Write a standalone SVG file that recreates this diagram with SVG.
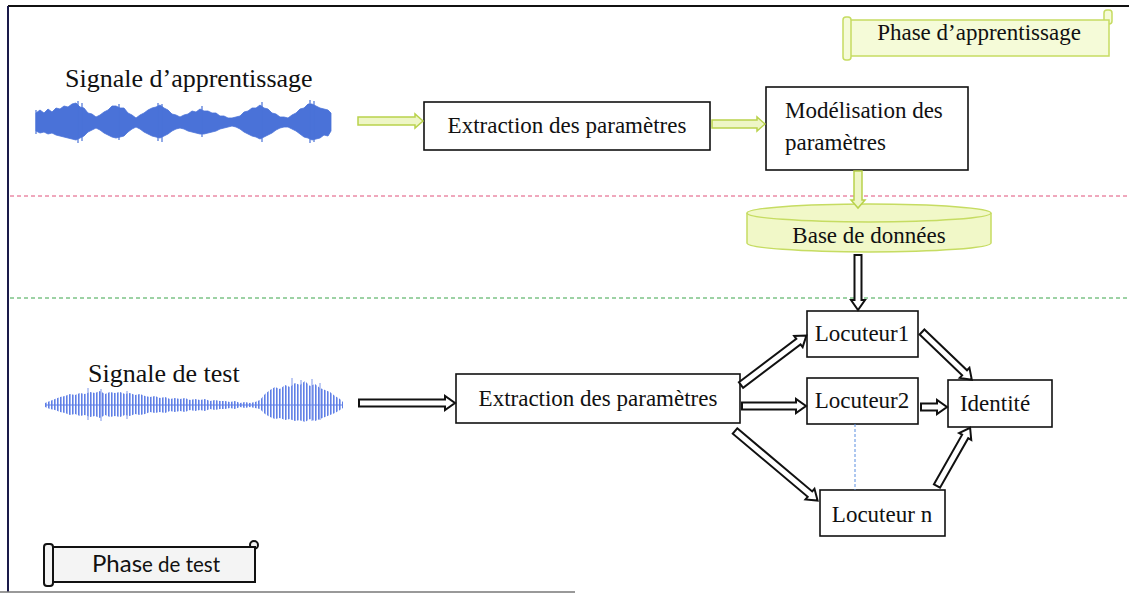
<svg xmlns="http://www.w3.org/2000/svg" width="1129" height="595" viewBox="0 0 1129 595">
  <style>
    .lbl { font-family: "Liberation Serif", "Times New Roman", serif; font-size: 23px; fill: #111; }
    .big { font-family: "Liberation Serif", "Times New Roman", serif; font-size: 26px; fill: #111; }
    .box { fill: #fff; stroke: #111; stroke-width: 1.6; }
    .arr { fill: #fff; stroke: #111; stroke-width: 2; stroke-linejoin: miter; }
    .garr { fill: #eef6c6; stroke: #b9d24c; stroke-width: 1.5; }
  </style>
  <defs>
    <!-- vertical stripes used to texture the test waveform -->
    <pattern id="stripes" patternUnits="userSpaceOnUse" width="3" height="4">
      <rect x="0" y="0" width="1.6" height="4" fill="#5f7fe6"/>
    </pattern>
  </defs>

  <rect width="1129" height="595" fill="#fff"/>

  <!-- outer frame -->
  <g id="frame">
    <line x1="8" y1="6" x2="1129" y2="6" stroke="#111" stroke-width="2"/>
    <line x1="8" y1="6" x2="8" y2="592" stroke="#1a1a4a" stroke-width="2"/>
    <line x1="0" y1="592" x2="575" y2="592" stroke="#777" stroke-width="1.5"/>
  </g>

  <!-- phase separators -->
  <g id="separators">
    <line x1="10" y1="196" x2="1129" y2="196" stroke="#e0507a" stroke-width="1" stroke-dasharray="4 3"/>
    <line x1="10" y1="298" x2="1129" y2="298" stroke="#3aa54a" stroke-width="1" stroke-dasharray="4 3"/>
  </g>

  <!-- learning phase banner -->
  <g id="banner-apprentissage">
    <rect x="1104" y="10" width="8" height="14" rx="3" fill="#f5fbd8" stroke="#c6dc62" stroke-width="1.5"/>
    <rect x="849" y="20" width="260" height="36" fill="#f5fbd8" stroke="#c6dc62" stroke-width="1.5"/>
    <rect x="843" y="17" width="8" height="43" rx="3" fill="#f5fbd8" stroke="#c6dc62" stroke-width="1.5"/>
    <text class="lbl" x="979" y="40" text-anchor="middle" font-size="22.5">Phase d’apprentissage</text>
  </g>

  <!-- training signal -->
  <g id="signal-apprentissage">
    <text class="big" x="65" y="87">Signale d’apprentissage</text>
    <polygon fill="#4a72d8" stroke="#4a72d8" stroke-width="0.8" points="36,113 40,110 44,113 48,109 52,112 56,108 60,109 64,106 68,107 72,104 76,103 80,107 84,108 88,113 92,114 96,117 100,115 104,112 108,110 112,106 116,106 120,108 124,108 128,113 132,115 136,118 140,115 144,113 148,110 152,108 156,107 160,105 164,108 168,110 172,114 176,115 180,117 184,115 188,114 192,111 196,112 200,109 204,111 208,111 212,113 216,113 220,116 224,116 228,118 232,118 236,117 240,116 244,112 248,111 252,108 256,108 260,105 264,108 268,109 272,113 276,114 280,117 284,117 288,118 292,115 296,113 300,109 304,108 308,104 312,104 316,106 320,108 324,109 328,110 331,113 331,131 328,136 324,135 320,138 316,139 312,140 308,138 304,137 300,134 296,131 292,129 288,127 284,127 280,128 276,130 272,133 268,135 264,137 260,139 256,137 252,136 248,134 244,132 240,129 236,127 232,126 228,127 224,128 220,129 216,131 212,132 208,133 204,134 200,134 196,133 192,132 188,131 184,129 180,128 176,129 172,131 168,134 164,136 160,138 156,137 152,136 148,134 144,132 140,129 136,127 132,129 128,132 124,136 120,137 116,138 112,137 108,135 104,133 100,130 96,128 92,130 88,132 84,136 80,138 76,140 72,139 68,138 64,137 60,136 56,135 52,133 48,134 44,132 40,133 36,131"/>
    <path d="M78,101V143 M82,103V141 M119,104V140 M158,103V141 M162,104V142 M262,102V142 M310,100V143 M314,101V142 M202,106V137 M36,110V134" stroke="#4a72d8" stroke-width="1.2"/>
  </g>

  <!-- test signal -->
  <g id="signal-test">
    <text class="big" x="88" y="382">Signale de test</text>
    <polygon fill="url(#stripes)" points="45,403 50,401 55,399 60,397 65,396 70,394 75,395 80,393 85,394 90,392 95,393 100,391 105,394 110,392 115,393 120,392 125,394 130,393 135,395 140,394 145,396 150,397 155,396 160,398 165,397 170,399 175,398 180,399 185,398 190,400 195,399 200,400 205,399 210,401 215,400 220,401 225,401 230,402 235,401 240,403 245,402 250,403 255,402 260,400 265,394 270,390 275,387 280,389 285,385 290,387 295,383 300,385 305,381 310,386 315,384 320,388 325,390 330,392 335,396 340,399 343,402 343,408 340,410 335,413 330,415 325,417 320,419 315,421 310,419 305,422 300,420 295,421 290,419 285,420 280,418 275,419 270,417 265,414 260,409 255,408 250,407 245,408 240,407 235,409 230,408 225,409 220,409 215,410 210,409 205,411 200,410 195,411 190,410 185,412 180,411 175,412 170,411 165,413 160,412 155,413 150,412 145,414 140,415 135,414 130,416 125,415 120,417 115,416 110,417 105,415 100,418 95,416 90,417 85,415 80,416 75,414 70,415 65,413 60,412 55,410 50,409 45,407"/>
    <line x1="45" y1="405" x2="343" y2="405" stroke="#5f7fe6" stroke-width="1"/>
    <path d="M88,388V420 M101,389V421 M127,391V419 M292,378V420 M301,380V421 M312,379V421 M320,383V420" stroke="#7d95ea" stroke-width="1"/>
  </g>

  <g id="extraction-apprentissage">
    <rect class="box" x="424" y="102" width="286" height="48"/>
    <text class="lbl" x="567" y="133" text-anchor="middle">Extraction des paramètres</text>
  </g>

  <g id="modelisation">
    <rect class="box" x="766" y="87" width="202" height="83"/>
    <text class="lbl" x="785" y="118">Modélisation des</text>
    <text class="lbl" x="785" y="150">paramètres</text>
  </g>

  <g id="base-donnees">
    <path d="M747,213 A122,9 0 0 1 991,213 V243 A122,9 0 0 1 747,243 Z" fill="#f1f8c8" stroke="#c6dc62" stroke-width="1.5"/>
    <path d="M747,213 A122,9 0 0 0 991,213" fill="none" stroke="#c6dc62" stroke-width="1.5"/>
    <text class="lbl" x="869" y="243" text-anchor="middle" font-size="22.5">Base de données</text>
  </g>

  <g id="extraction-test">
    <rect class="box" x="456" y="374" width="284" height="49"/>
    <text class="lbl" x="598" y="406" text-anchor="middle">Extraction des paramètres</text>
  </g>

  <g id="locuteur1">
    <rect class="box" x="807" y="311" width="111" height="46"/>
    <text class="lbl" x="862" y="341" text-anchor="middle" font-size="22">Locuteur1</text>
  </g>

  <g id="locuteur2">
    <rect class="box" x="807" y="378" width="111" height="46"/>
    <text class="lbl" x="862" y="408" text-anchor="middle" font-size="22">Locuteur2</text>
  </g>

  <g id="locuteur-n">
    <rect class="box" x="820" y="490" width="125" height="46"/>
    <text class="lbl" x="882" y="522" text-anchor="middle" font-size="22">Locuteur n</text>
  </g>

  <g id="identite">
    <rect class="box" x="948" y="380" width="104" height="47"/>
    <text class="lbl" x="995" y="411" text-anchor="middle">Identité</text>
  </g>

  <!-- test phase banner -->
  <g id="banner-test">
    <circle cx="254" cy="545" r="4" fill="#f4f4f4" stroke="#111" stroke-width="2"/>
    <rect x="50" y="547" width="205" height="35" fill="#f4f4f4" stroke="#111" stroke-width="2"/>
    <rect x="44" y="544" width="9" height="42" rx="3" fill="#f4f4f4" stroke="#111" stroke-width="2"/>
    <text x="156" y="572" text-anchor="middle" font-family="Lato, 'Open Sans', sans-serif" fill="#111"><tspan font-size="24">Phas</tspan><tspan font-size="20.5">e de test</tspan></text>
  </g>

  <!-- connectors: hollow block arrows, drawn along +x then placed -->
  <g id="connectors">
    <line x1="855" y1="424" x2="855" y2="490" stroke="#5b8ee0" stroke-width="1" stroke-dasharray="3 2"/>

    <polygon class="garr" transform="translate(358,121)" points="0,-4 57,-4 57,-7 65,0 57,7 57,4 0,4"/>
    <polygon class="garr" transform="translate(712,124)" points="0,-4 45,-4 45,-7 53,0 45,7 45,4 0,4"/>
    <polygon class="garr" transform="translate(858,171) rotate(90)" points="0,-4 29,-4 29,-7 37,0 29,7 29,4 0,4"/>

    <polygon class="arr" transform="translate(858,255) rotate(90)" points="0,-3.5 45,-3.5 45,-7 55,0 45,7 45,3.5 0,3.5"/>
    <polygon class="arr" transform="translate(359,403)" points="0,-3.5 86,-3.5 86,-7 96,0 86,7 86,3.5 0,3.5"/>
    <polygon class="arr" transform="translate(741,385) rotate(-37.1)" points="0,-3.5 72,-3.5 72,-7 82,0 72,7 72,3.5 0,3.5"/>
    <polygon class="arr" transform="translate(742,406)" points="0,-3.5 54,-3.5 54,-7 64,0 54,7 54,3.5 0,3.5"/>
    <polygon class="arr" transform="translate(735,431) rotate(40.1)" points="0,-3.5 98,-3.5 98,-7 108,0 98,7 98,3.5 0,3.5"/>
    <polygon class="arr" transform="translate(922,332) rotate(43.8)" points="0,-3.5 59,-3.5 59,-7 69,0 59,7 59,3.5 0,3.5"/>
    <polygon class="arr" transform="translate(921,407)" points="0,-3.5 16,-3.5 16,-7 26,0 16,7 16,3.5 0,3.5"/>
    <polygon class="arr" transform="translate(937,486) rotate(-60.4)" points="0,-3.5 57,-3.5 57,-7 67,0 57,7 57,3.5 0,3.5"/>
  </g>
</svg>
